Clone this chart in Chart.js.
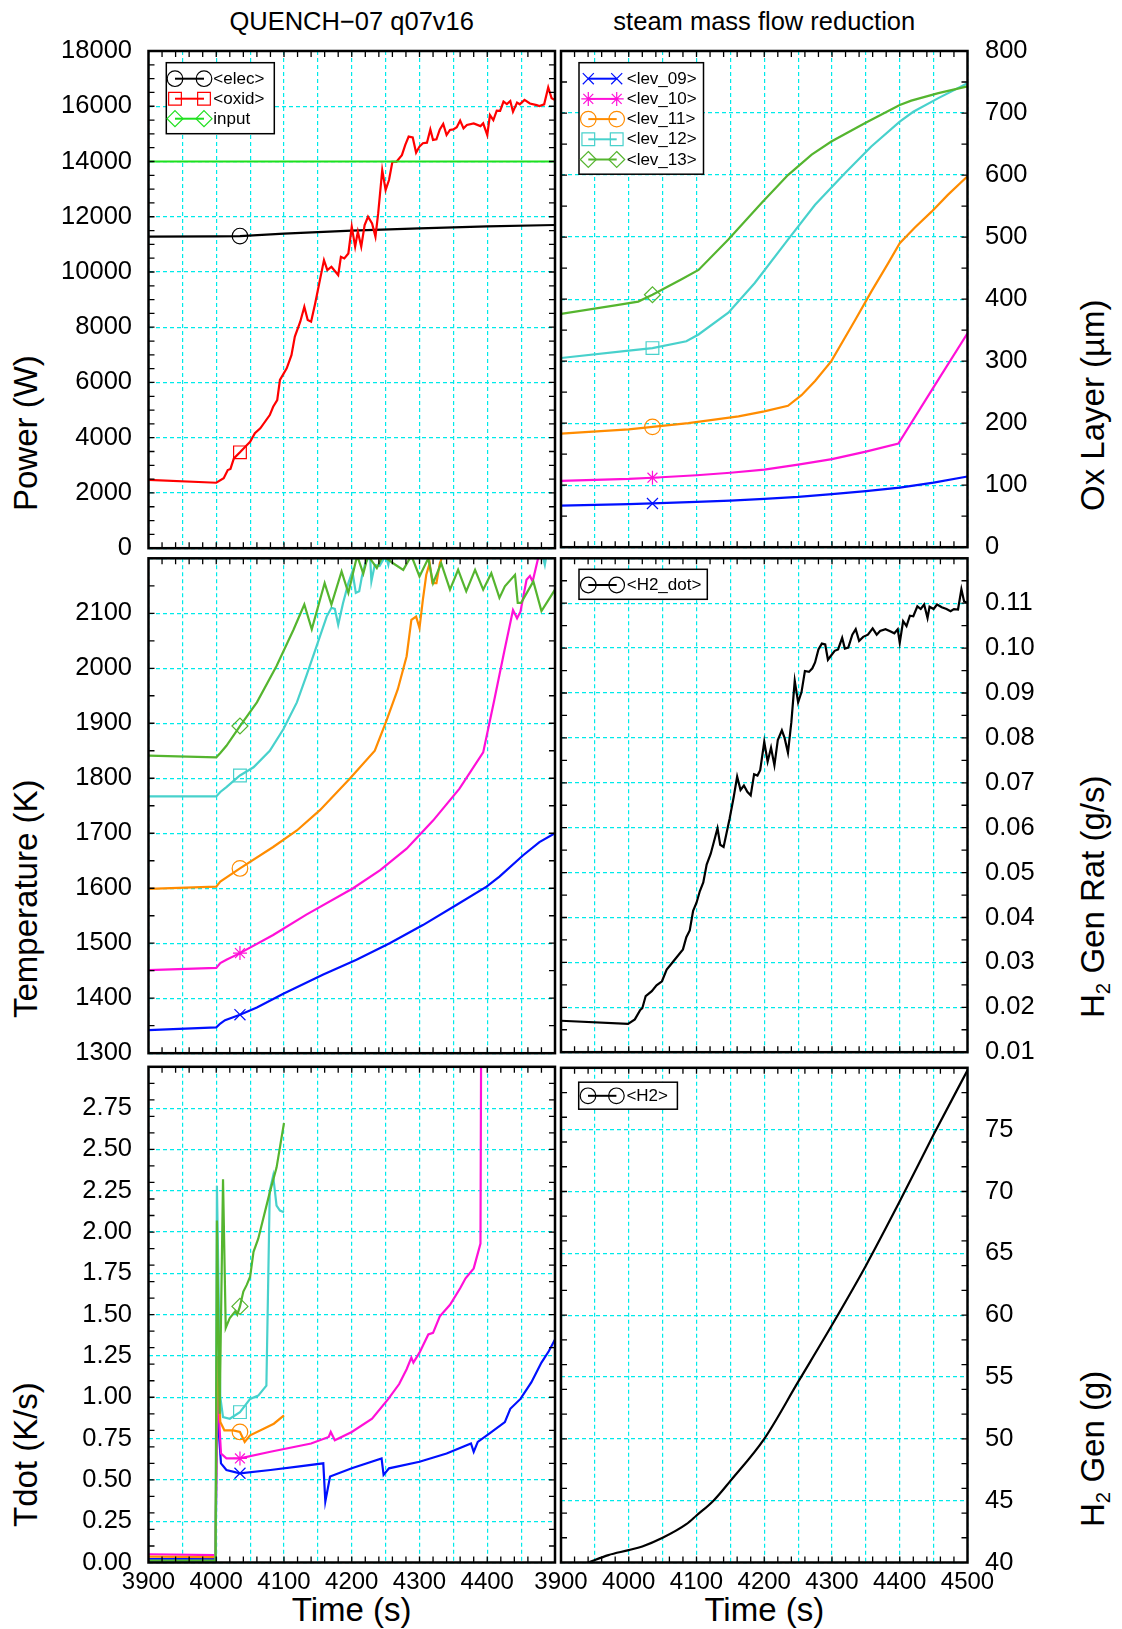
<!DOCTYPE html>
<html lang="en">
<head>
  <meta charset="UTF-8">
  <title>QUENCH-07 q07v16 - steam mass flow reduction</title>
  <script src="https://cdn.jsdelivr.net/npm/chart.js@4.4.0/dist/chart.umd.min.js"></script>
  <style>
    body {
      margin: 0;
      width: 1122px;
      height: 1629px;
      position: relative;
      overflow: hidden;
      background: #fff;
      font-family: 'Liberation Sans', Arial, sans-serif;
      color: #000;
    }
    canvas { position: absolute; }
    .title { position: absolute; font-size: 25.5px; line-height: 1; white-space: nowrap; transform: translateX(-50%); }
    .xtitle { position: absolute; font-size: 33px; line-height: 1; white-space: nowrap; transform: translateX(-50%); }
    .ytitle { position: absolute; font-size: 33px; line-height: 1; white-space: nowrap; transform-origin: 0 0; transform: rotate(-90deg); }
    .ytitle .sub { position: relative; top: 0.3em; font-size: 0.62em; }
  </style>
</head>
<body>

  <div class="title" style="left:351.7px; top:8.5px">QUENCH−07 q07v16</div>
  <div class="title" style="left:764.3px; top:8.5px">steam mass flow reduction</div>

  <div class="ytitle" style="left:9px; top:511px">Power (W)</div>
  <div class="ytitle" style="left:9px; top:1018px">Temperature (K)</div>
  <div class="ytitle" style="left:9px; top:1527px">Tdot (K/s)</div>
  <div class="ytitle" style="left:1076px; top:511px">Ox Layer (µm)</div>
  <div class="ytitle" style="left:1076px; top:1018px">H<span class="sub">2</span> Gen Rat (g/s)</div>
  <div class="ytitle" style="left:1076px; top:1527px">H<span class="sub">2</span> Gen (g)</div>

  <div class="xtitle" style="left:351.7px; top:1592.5px">Time (s)</div>
  <div class="xtitle" style="left:764.3px; top:1592.5px">Time (s)</div>

  <canvas id="power"></canvas>
  <canvas id="oxlayer"></canvas>
  <canvas id="temp"></canvas>
  <canvas id="h2rate"></canvas>
  <canvas id="tdot"></canvas>
  <canvas id="h2mass"></canvas>

  <script>
    // ---- data: [time (s), value] ----
    const T_MIN = 3900, T_MAX = 4500;

    // electric / oxidation / input power (W)
    const elecPower = [[3900,11280],[4000,11290],[4035,11300],[4100,11390],[4200,11495],[4300,11580],[4400,11650],[4500,11700]];
    const oxidPower = [[3900,2470],[4000,2370],[4011,2530],[4017,2830],[4021,2870],[4026,3250],[4035,3470],[4045,3730],[4050,3850],
      [4057,4160],[4065,4340],[4079,4820],[4084,5120],[4090,5360],[4094,6090],[4104,6510],[4111,6990],[4116,7660],[4124,8200],
      [4130,8740],[4135,8260],[4140,8200],[4146,8860],[4153,9710],[4159,10430],[4164,10070],[4170,10190],[4180,9890],[4184,10550],
      [4189,10490],[4195,10670],[4200,11640],[4205,10920],[4209,11460],[4214,10920],[4219,11700],[4224,12000],[4230,11760],
      [4235,11280],[4239,12120],[4245,13690],[4250,12970],[4255,13330],[4260,13990],[4266,13990],[4274,14230],[4279,14600],
      [4284,14900],[4290,14870],[4295,14320],[4300,14540],[4305,14660],[4311,14680],[4316,15160],[4320,14780],[4325,14800],
      [4330,15160],[4335,15360],[4340,14960],[4345,15140],[4350,15160],[4355,15240],[4360,15480],[4365,15200],[4370,15320],
      [4380,15380],[4390,15280],[4394,15380],[4400,14960],[4404,15680],[4409,15500],[4414,15840],[4419,15830],[4424,16170],
      [4429,16080],[4434,16190],[4438,15800],[4444,16130],[4448,16070],[4455,16230],[4463,16100],[4473,16040],[4477,16010],
      [4484,16070],[4490,16680],[4495,16290],[4500,16230]];
    const inputPower = [[3900,14000],[4500,14000]];

    // oxide layer thickness per level (µm)
    const ox09 = [[3900,67],[4000,69.5],[4035,70.5],[4100,73],[4150,75],[4200,78],[4250,81],[4300,85.5],[4350,90.5],[4400,96],[4450,104],[4500,114]];
    const ox10 = [[3900,107],[4000,110],[4035,112],[4100,116],[4150,120],[4200,125],[4250,133],[4300,142],[4350,154],[4398,167],[4450,258],[4500,345]];
    const ox11 = [[3900,183],[4000,190],[4035,194],[4088,200],[4162,211],[4200,219],[4235,228],[4255,245],[4275,268],[4299,300],
      [4334,366],[4358,412],[4383,458],[4400,490],[4422,515],[4447,541],[4471,568],[4500,598]];
    const ox12 = [[3900,305],[4000,317],[4035,321],[4085,332],[4103,343],[4147,378],[4186,426],[4235,496],[4275,552],[4319,603],
      [4358,646],[4400,686],[4420,702],[4457,724],[4500,748]];
    const ox13 = [[3900,376],[3980,390],[4014,396],[4035,407],[4078,432],[4103,447],[4147,496],[4196,555],[4235,600],[4270,633],
      [4299,654],[4349,684],[4400,713],[4417,720],[4457,732],[4500,743]];

    // cladding temperature per level (K)
    const temp09 = [[3900,1342],[4000,1347],[4006,1354],[4013,1360],[4035,1370],[4060,1383],[4099,1408],[4158,1443],[4207,1470],
      [4256,1500],[4305,1533],[4355,1570],[4399,1603],[4418,1621],[4453,1660],[4477,1684],[4500,1700]];
    const temp10 = [[3900,1451],[4000,1455],[4006,1464],[4015,1470],[4035,1482],[4084,1515],[4133,1552],[4202,1600],[4242,1633],
      [4281,1672],[4320,1723],[4359,1781],[4394,1847],[4410,1940],[4425,2030],[4438,2106],[4444,2091],[4449,2103],[4458,2161],
      [4463,2168],[4467,2158],[4476,2205],[4485,2240]];
    const temp11 = [[3900,1599],[4000,1603],[4006,1612],[4035,1636],[4084,1675],[4119,1705],[4153,1742],[4197,1799],[4234,1850],
      [4251,1904],[4268,1962],[4281,2022],[4288,2088],[4295,2094],[4300,2073],[4305,2125],[4310,2170],[4315,2191],[4319,2155],
      [4325,2155],[4330,2191],[4336,2210],[4345,2240]];
    const temp12 = [[3900,1767],[4000,1767],[4006,1775],[4015,1784],[4035,1805],[4055,1820],[4079,1850],[4099,1889],[4119,1938],
      [4133,1986],[4148,2040],[4163,2094],[4170,2110],[4175,2108],[4180,2079],[4187,2118],[4195,2155],[4201,2176],[4206,2137],
      [4211,2140],[4215,2167],[4220,2191],[4227,2205],[4229,2158],[4234,2188],[4241,2186],[4250,2205],[4254,2188],[4262,2240],
      [4475,2240],[4485,2188],[4492,2240],[4500,2240]];
    const temp13 = [[3900,1841],[4000,1838],[4006,1846],[4015,1859],[4035,1895],[4060,1938],[4089,2004],[4114,2070],[4130,2116],
      [4141,2071],[4160,2155],[4170,2116],[4185,2176],[4195,2137],[4208,2205],[4217,2172],[4224,2205],[4237,2182],[4246,2205],
      [4261,2191],[4276,2179],[4288,2205],[4300,2167],[4313,2200],[4320,2155],[4332,2191],[4345,2143],[4357,2179],[4369,2140],
      [4382,2179],[4394,2143],[4406,2173],[4418,2128],[4426,2149],[4441,2170],[4445,2119],[4450,2119],[4468,2158],[4480,2104],
      [4500,2143]];

    // hydrogen generation rate (g/s)
    const h2Rate = [[3900,0.0170],[3999,0.0163],[4009,0.0173],[4017,0.0194],[4020,0.0198],[4025,0.0225],[4034,0.0236],[4041,0.0249],
      [4049,0.0258],[4056,0.0284],[4063,0.0297],[4080,0.0329],[4085,0.0356],[4090,0.0371],[4095,0.0415],[4100,0.0433],[4105,0.0459],
      [4110,0.0478],[4115,0.0518],[4121,0.0542],[4131,0.0599],[4135,0.0562],[4140,0.0557],[4149,0.0621],[4155,0.0669],[4160,0.0714],
      [4165,0.0684],[4170,0.0694],[4175,0.0680],[4180,0.0672],[4185,0.0719],[4190,0.0716],[4194,0.0728],[4200,0.0791],[4205,0.0747],
      [4210,0.0778],[4215,0.0739],[4220,0.0795],[4226,0.0817],[4230,0.0800],[4235,0.0767],[4240,0.0835],[4245,0.0927],[4250,0.0879],
      [4255,0.0902],[4260,0.0949],[4266,0.0947],[4271,0.0955],[4275,0.0968],[4280,0.0997],[4285,0.1010],[4290,0.1008],[4294,0.0974],
      [4299,0.0984],[4304,0.0994],[4309,0.0997],[4315,0.1023],[4319,0.0999],[4324,0.1001],[4330,0.1030],[4335,0.1042],[4340,0.1016],
      [4346,0.1025],[4353,0.1030],[4360,0.1044],[4366,0.1030],[4371,0.1038],[4379,0.1042],[4385,0.1038],[4392,0.1033],[4397,0.1042],
      [4400,0.1012],[4405,0.1060],[4410,0.1049],[4415,0.1072],[4420,0.1071],[4426,0.1093],[4431,0.1087],[4436,0.1097],[4441,0.1067],
      [4444,0.1092],[4450,0.1087],[4455,0.1097],[4462,0.1091],[4469,0.1087],[4475,0.1082],[4480,0.1087],[4486,0.1086],[4491,0.1131],
      [4495,0.1104],[4500,0.1101]];

    // heat-up rate per level (K/s)
    const tdot09 = [[3900,0.02],[3999,0.02],[4001,0.95],[4007,0.6],[4015,0.56],[4035,0.54],[4080,0.56],[4120,0.58],[4158,0.6],
      [4161,0.37],[4168,0.52],[4200,0.57],[4244,0.63],[4247,0.53],[4255,0.57],[4300,0.61],[4340,0.66],[4376,0.72],[4380,0.67],
      [4386,0.73],[4403,0.78],[4426,0.85],[4434,0.93],[4449,0.99],[4465,1.09],[4480,1.21],[4491,1.28],[4500,1.35]];
    const tdot10 = [[3900,0.05],[3999,0.045],[4001,1.1],[4007,0.66],[4015,0.63],[4035,0.63],[4080,0.67],[4140,0.72],[4166,0.76],
      [4169,0.79],[4175,0.74],[4200,0.79],[4230,0.87],[4254,0.99],[4270,1.08],[4281,1.17],[4288,1.24],[4291,1.21],[4300,1.27],
      [4313,1.38],[4320,1.39],[4330,1.49],[4345,1.56],[4360,1.66],[4368,1.72],[4380,1.78],[4390,1.93],[4391,3.2]];
    const tdot11 = [[3900,0.035],[3999,0.033],[4001,1.25],[4006,0.85],[4012,0.8],[4025,0.8],[4035,0.79],[4042,0.73],[4050,0.77],
      [4070,0.81],[4085,0.84],[4100,0.89]];
    const tdot12 = [[3900,0.01],[3999,0.01],[4001,2.28],[4006,1.0],[4010,0.88],[4020,0.87],[4035,0.91],[4050,0.99],[4062,1.01],
      [4074,1.07],[4079,2.25],[4084,2.34],[4089,2.16],[4094,2.13],[4100,2.12]];
    const tdot13 = [[3900,0.012],[3999,0.012],[4001,2.07],[4005,0.9],[4010,2.32],[4014,1.42],[4020,1.48],[4028,1.52],[4031,1.5],
      [4035,1.55],[4040,1.64],[4045,1.68],[4050,1.73],[4055,1.88],[4062,1.96],[4079,2.24],[4089,2.39],[4100,2.66]];

    // cumulated hydrogen (g)
    const h2Mass = [[3940,40.0],[3970,40.6],[4000,41.0],[4020,41.3],[4050,42.0],[4085,43.1],[4100,43.8],[4125,45.0],[4150,46.6],
      [4200,50.0],[4250,54.6],[4300,59.2],[4350,64.0],[4400,69.2],[4450,74.6],[4500,79.8]];

    // ---- layout of the 3x2 grid ----
    const SANS = "'Liberation Sans', Arial, sans-serif";
    const COLS = {
      left:  { plotL: 148.5, plotR: 555,   cx: 0,   cw: 600 },
      right: { plotL: 561,   plotR: 967.5, cx: 500, cw: 622 }
    };
    const ROWS = {
      top: { plotT: 51,    plotB: 548.3,  cy: 0,    ch: 580 },
      mid: { plotT: 558.3, plotB: 1055.7, cy: 525,  ch: 560 },
      bot: { plotT: 1064,  plotB: 1562.5, cy: 1035, ch: 594 }
    };
    const MARK_R = { circle: 7.8, rect: 9, rectRot: 8, crossRot: 7.8, star: 7 };

    const GRID = '#00eaea';
    const C = {
      black: '#000000', red: '#ff0000', input: '#1ee01e',
      l09: '#0010ff', l10: '#ff10d8', l11: '#ff8c00', l12: '#48d1cc', l13: '#55b52f'
    };

    function drawMark(ctx, style, x, y, r) {
      const d = r * Math.SQRT1_2;
      ctx.beginPath();
      if (style === 'circle') {
        ctx.arc(x, y, r, 0, Math.PI * 2);
      } else if (style === 'rect') {
        ctx.rect(x - d, y - d, 2 * d, 2 * d);
      } else if (style === 'rectRot') {
        ctx.moveTo(x, y - r); ctx.lineTo(x + r, y); ctx.lineTo(x, y + r); ctx.lineTo(x - r, y); ctx.closePath();
      } else {
        ctx.moveTo(x - d, y - d); ctx.lineTo(x + d, y + d);
        ctx.moveTo(x + d, y - d); ctx.lineTo(x - d, y + d);
        if (style === 'star') {
          ctx.moveTo(x - r, y); ctx.lineTo(x + r, y);
          ctx.moveTo(x, y - r); ctx.lineTo(x, y + r);
        }
      }
      ctx.stroke();
    }

    // inward minor ticks on all four sides plus the heavy border
    const framePlugin = {
      id: 'frame',
      afterDatasetsDraw(chart, args, o) {
        const { ctx, chartArea: a, scales: { x, y } } = chart;
        ctx.save();
        ctx.strokeStyle = '#000';
        ctx.lineWidth = 1.3;
        ctx.beginPath();
        const nx = Math.round((x.max - x.min) / o.xStep);
        for (let i = 1; i < nx; i++) {
          const px = x.getPixelForValue(x.min + i * o.xStep);
          ctx.moveTo(px, a.bottom); ctx.lineTo(px, a.bottom - o.len);
          ctx.moveTo(px, a.top); ctx.lineTo(px, a.top + o.len);
        }
        const ny = Math.round((y.max - y.min) / o.yStep);
        for (let i = 1; i < ny; i++) {
          const py = y.getPixelForValue(y.min + i * o.yStep);
          ctx.moveTo(a.left, py); ctx.lineTo(a.left + o.len, py);
          ctx.moveTo(a.right, py); ctx.lineTo(a.right - o.len, py);
        }
        ctx.stroke();
        ctx.lineWidth = 2.5;
        ctx.strokeRect(a.left, a.top, a.right - a.left, a.bottom - a.top);
        ctx.restore();
      }
    };

    // boxed key in the upper left corner of a panel
    const keyPlugin = {
      id: 'key',
      afterDraw(chart, args, o) {
        const { ctx, chartArea: a } = chart;
        const bx = a.left + o.dx, by = a.top + o.dy;
        const sets = chart.data.datasets;
        ctx.save();
        ctx.fillStyle = '#fff';
        ctx.fillRect(bx, by, o.w, o.h);
        ctx.strokeStyle = '#000';
        ctx.lineWidth = 1.5;
        ctx.strokeRect(bx, by, o.w, o.h);
        ctx.font = '17px ' + SANS;
        ctx.textBaseline = 'middle';
        sets.forEach((ds, i) => {
          const ry = by + o.rowY + i * o.rowH;
          ctx.strokeStyle = ds.borderColor;
          ctx.lineWidth = 2;
          ctx.beginPath();
          ctx.moveTo(bx + o.m1, ry); ctx.lineTo(bx + o.m2, ry);
          ctx.stroke();
          ctx.lineWidth = 1.2;
          drawMark(ctx, ds.pointStyle, bx + o.m1, ry, MARK_R[ds.pointStyle]);
          drawMark(ctx, ds.pointStyle, bx + o.m2, ry, MARK_R[ds.pointStyle]);
          ctx.fillStyle = '#000';
          ctx.fillText(ds.label, bx + o.tx, ry + 0.5);
        });
        ctx.restore();
      }
    };

    function buildPanel(id, col, row, spec) {
      const c = COLS[col], r = ROWS[row];
      const cv = document.getElementById(id);
      cv.width = c.cw; cv.height = r.ch;
      cv.style.left = c.cx + 'px'; cv.style.top = r.cy + 'px';
      const left = col === 'left';
      const axisW = left ? c.plotL - c.cx : c.cx + c.cw - c.plotR;
      const axisH = r.cy + r.ch - r.plotB;

      return new Chart(cv, {
        type: 'line',
        data: {
          datasets: spec.series.map((s, i) => ({
            label: s.label,
            data: s.data.map(p => ({ x: p[0], y: p[1] })),
            borderColor: s.color,
            borderWidth: 2.2,
            order: -i,
            pointStyle: s.style,
            pointRadius: ctx => (s.markAt !== undefined && ctx.raw && ctx.raw.x === s.markAt) ? MARK_R[s.style] : 0,
            pointHoverRadius: 0,
            pointBorderColor: s.color,
            pointBackgroundColor: 'rgba(0,0,0,0)',
            pointBorderWidth: 1.2,
            cubicInterpolationMode: spec.smooth ? 'monotone' : 'default',
            tension: 0,
            fill: false,
            clip: 0
          }))
        },
        options: {
          responsive: false,
          animation: false,
          devicePixelRatio: 1,
          events: [],
          layout: {
            padding: {
              left: left ? 0 : c.plotL - c.cx,
              right: left ? c.cx + c.cw - c.plotR : 0,
              top: r.plotT - r.cy,
              bottom: 0
            }
          },
          plugins: {
            legend: { display: false },
            tooltip: { enabled: false },
            frame: { xStep: 20, yStep: spec.minor, len: 6 },
            key: spec.key
          },
          scales: {
            x: {
              type: 'linear',
              min: T_MIN,
              max: T_MAX,
              grid: { color: GRID, lineWidth: 1.2, drawTicks: false },
              border: { display: false, dash: [4, 3] },
              ticks: {
                display: row === 'bot',
                stepSize: 50,
                autoSkip: false,
                maxRotation: 0,
                padding: 5,
                color: '#000',
                font: { family: SANS, size: 24 },
                callback: v => (v % 100 === 0 && (left ? v < T_MAX : true)) ? String(v) : ''
              },
              afterFit: s => { s.height = axisH; }
            },
            y: {
              type: 'linear',
              position: left ? 'left' : 'right',
              min: spec.min,
              max: spec.max,
              grid: { color: GRID, lineWidth: 1.2, drawTicks: false },
              border: { display: false, dash: [4, 3] },
              ticks: {
                stepSize: spec.step,
                autoSkip: false,
                padding: left ? 16.5 : 17.5,
                color: '#000',
                font: { family: SANS, size: 25.5 },
                callback: v => (spec.hideTop && Math.abs(v - spec.max) < 1e-9) ? '' : Number(v).toFixed(spec.digits)
              },
              afterFit: s => { s.width = axisW; }
            }
          }
        },
        plugins: [framePlugin, keyPlugin]
      });
    }

    const KEY_L = { dx: 17.8, dy: 11.7, m1: 8.7, m2: 37.7, tx: 47, rowY: 16, rowH: 20 };
    const KEY_R = { dx: 18, dy: 11.7, m1: 9.3, m2: 37.7, tx: 47.7, rowY: 16, rowH: 20.2 };

    buildPanel('power', 'left', 'top', {
      min: 0, max: 18000, step: 2000, minor: 500, digits: 0,
      key: Object.assign({}, KEY_L, { w: 108, h: 71 }),
      series: [
        { label: '<elec>', data: elecPower, color: C.black, style: 'circle', markAt: 4035 },
        { label: '<oxid>', data: oxidPower, color: C.red, style: 'rect', markAt: 4035 },
        { label: 'input', data: inputPower, color: C.input, style: 'rectRot' }
      ]
    });

    buildPanel('oxlayer', 'right', 'top', {
      min: 0, max: 800, step: 100, minor: 50, digits: 0,
      key: Object.assign({}, KEY_R, { w: 124.5, h: 111.5 }),
      series: [
        { label: '<lev_09>', data: ox09, color: C.l09, style: 'crossRot', markAt: 4035 },
        { label: '<lev_10>', data: ox10, color: C.l10, style: 'star', markAt: 4035 },
        { label: '<lev_11>', data: ox11, color: C.l11, style: 'circle', markAt: 4035 },
        { label: '<lev_12>', data: ox12, color: C.l12, style: 'rect', markAt: 4035 },
        { label: '<lev_13>', data: ox13, color: C.l13, style: 'rectRot', markAt: 4035 }
      ]
    });

    buildPanel('temp', 'left', 'mid', {
      min: 1300, max: 2200, step: 100, minor: 50, digits: 0, hideTop: true,
      series: [
        { label: '<lev_09>', data: temp09, color: C.l09, style: 'crossRot', markAt: 4035 },
        { label: '<lev_10>', data: temp10, color: C.l10, style: 'star', markAt: 4035 },
        { label: '<lev_11>', data: temp11, color: C.l11, style: 'circle', markAt: 4035 },
        { label: '<lev_12>', data: temp12, color: C.l12, style: 'rect', markAt: 4035 },
        { label: '<lev_13>', data: temp13, color: C.l13, style: 'rectRot', markAt: 4035 }
      ]
    });

    buildPanel('h2rate', 'right', 'mid', {
      min: 0.01, max: 0.12, step: 0.01, minor: 0.005, digits: 2, hideTop: true,
      key: Object.assign({}, KEY_R, { dy: 11, w: 128.3, h: 30, rowY: 15.7 }),
      series: [
        { label: '<H2_dot>', data: h2Rate, color: C.black, style: 'circle' }
      ]
    });

    buildPanel('tdot', 'left', 'bot', {
      min: 0, max: 3, step: 0.25, minor: 0.1, digits: 2, hideTop: true,
      series: [
        { label: '<lev_09>', data: tdot09, color: C.l09, style: 'crossRot', markAt: 4035 },
        { label: '<lev_10>', data: tdot10, color: C.l10, style: 'star', markAt: 4035 },
        { label: '<lev_11>', data: tdot11, color: C.l11, style: 'circle', markAt: 4035 },
        { label: '<lev_12>', data: tdot12, color: C.l12, style: 'rect', markAt: 4035 },
        { label: '<lev_13>', data: tdot13, color: C.l13, style: 'rectRot', markAt: 4035 }
      ]
    });

    buildPanel('h2mass', 'right', 'bot', {
      min: 40, max: 80, step: 5, minor: 2, digits: 0, hideTop: true, smooth: true,
      key: Object.assign({}, KEY_R, { dx: 17.7, dy: 14.4, w: 98.7, h: 27, rowY: 13.6 }),
      series: [
        { label: '<H2>', data: h2Mass, color: C.black, style: 'circle' }
      ]
    });
  </script>
</body>
</html>
